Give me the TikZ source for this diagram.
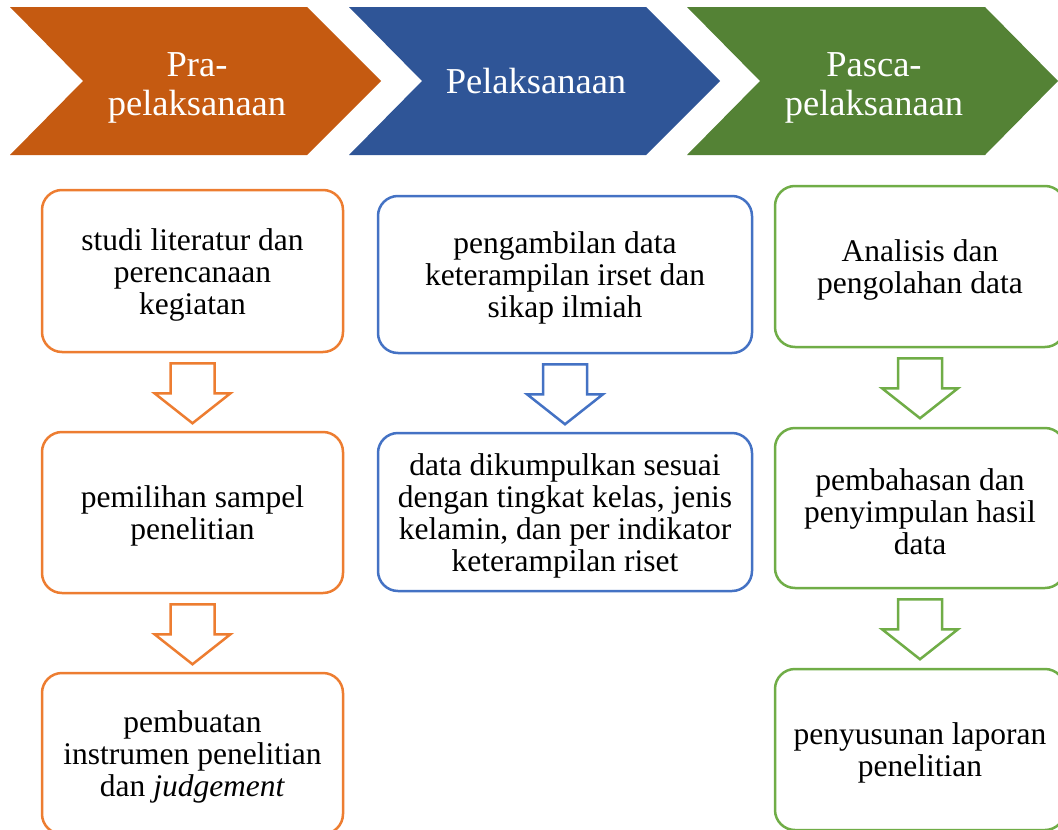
\documentclass[tikz,border=0pt]{standalone}
\usepackage{fontspec}
\setmainfont{Liberation Serif}
\usetikzlibrary{calc}
\definecolor{chorange}{HTML}{C55A11}
\definecolor{chblue}{HTML}{2F5597}
\definecolor{chgreen}{HTML}{548235}
\definecolor{bxorange}{HTML}{ED7D31}
\definecolor{bxblue}{HTML}{4472C4}
\definecolor{bxgreen}{HTML}{70AD47}
\tikzset{
  stagebox/.style={draw=#1, line width=2.5pt, rounded corners=20pt, fill=white, inner sep=0pt},
  boxtext/.style={text=black, font=\fontsize{31.5}{32}\selectfont, align=center, inner sep=0pt, yshift=-3.5pt},
  chevtext/.style={text=white, font=\fontsize{36.5}{39}\selectfont, align=center, inner sep=0pt},
  blockarrow/.style={draw=#1, line width=2.5pt, fill=white, line join=miter}
}
\newcommand{\stagearrow}[2]{%
  \draw[blockarrow=#2] ($(#1.south)+(-22,10)$) -- ($(#1.south)+(22,10)$)
    -- ($(#1.south)+(22,40)$) -- ($(#1.south)+(38,40)$)
    -- ($(#1.south)+(0,70)$) -- ($(#1.south)+(-38,40)$)
    -- ($(#1.south)+(-22,40)$) -- cycle;}
\begin{document}
\begin{tikzpicture}[x=1pt,y=-1pt]
\useasboundingbox (0,0) rectangle (1058,830);
\clip (0,0) rectangle (1058,830);
% chevrons
\fill[chorange] (10,7) -- (307,7) -- (381,81) -- (307,155) -- (10,155) -- (83,81) -- cycle;
\fill[chblue] (349,7) -- (646,7) -- (720,81) -- (646,155) -- (349,155) -- (422,81) -- cycle;
\fill[chgreen] (687,7) -- (985,7) -- (1058,81) -- (985,155) -- (687,155) -- (760,81) -- cycle;
\node[chevtext] (c1) at (197,87.5) {Pra-\\pelaksanaan};
\node[chevtext] (c2) at (536,81) {Pelaksanaan};
\node[chevtext] (c3) at (874,87.5) {Pasca-\\pelaksanaan};
% column 1
\node[stagebox=bxorange, minimum width=301pt, minimum height=162pt,
  label={[boxtext]center:{studi literatur dan\\perencanaan\\kegiatan}}] (a1) at (192.5,271) {};
\node[stagebox=bxorange, minimum width=301pt, minimum height=161pt,
  label={[boxtext]center:{pemilihan sampel\\penelitian}}] (a2) at (192.5,512.5) {};
\node[stagebox=bxorange, minimum width=301pt, minimum height=161pt,
  label={[boxtext]center:{pembuatan\\instrumen penelitian\\dan \textit{judgement}}}] (a3) at (192.5,753.5) {};
\stagearrow{a1}{bxorange}
\stagearrow{a2}{bxorange}
% column 2
\node[stagebox=bxblue, minimum width=374pt, minimum height=157pt,
  label={[boxtext]center:{pengambilan data\\keterampilan irset dan\\sikap ilmiah}}] (b1) at (565,274.5) {};
\node[stagebox=bxblue, minimum width=374pt, minimum height=158pt,
  label={[boxtext]center:{data dikumpulkan sesuai\\dengan tingkat kelas, jenis\\kelamin, dan per indikator\\keterampilan riset}}] (b2) at (565,512) {};
\stagearrow{b1}{bxblue}
% column 3
\node[stagebox=bxgreen, minimum width=290pt, minimum height=161pt,
  label={[boxtext]center:{Analisis dan\\pengolahan data}}] (g1) at (920,266.5) {};
\node[stagebox=bxgreen, minimum width=290pt, minimum height=160pt,
  label={[boxtext]center:{pembahasan dan\\penyimpulan hasil\\data}}] (g2) at (920,508) {};
\node[stagebox=bxgreen, minimum width=290pt, minimum height=161pt,
  label={[boxtext]center:{penyusunan laporan\\penelitian}}] (g3) at (920,749.5) {};
\stagearrow{g1}{bxgreen}
\stagearrow{g2}{bxgreen}
\end{tikzpicture}
\end{document}
